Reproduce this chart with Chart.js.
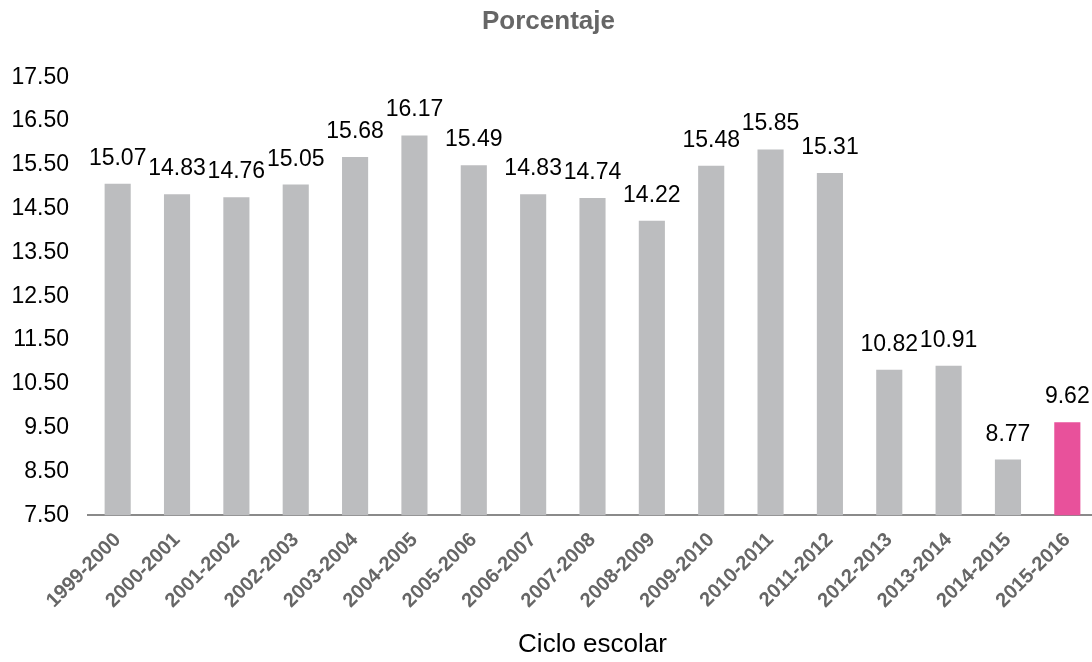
<!DOCTYPE html>
<html>
<head>
<meta charset="utf-8">
<script src="https://cdn.jsdelivr.net/npm/chart.js@4/dist/chart.umd.min.js"></script>
<style>
    html, body { margin: 0; padding: 0; background: #fff; overflow: hidden; }
    #wrap { width: 1100px; height: 662px; position: relative; }
</style>
</head>
<body>
<div id="wrap"><canvas id="porcentajeChart"></canvas></div>
<script>
const ciclos = ['1999-2000', '2000-2001', '2001-2002', '2002-2003', '2003-2004', '2004-2005', '2005-2006', '2006-2007', '2007-2008', '2008-2009', '2009-2010', '2010-2011', '2011-2012', '2012-2013', '2013-2014', '2014-2015', '2015-2016'];
const porcentajes = [15.07, 14.83, 14.76, 15.05, 15.68, 16.17, 15.49, 14.83, 14.74, 14.22, 15.48, 15.85, 15.31, 10.82, 10.91, 8.77, 9.62];
const yMin = 7.5;
const yMax = 17.5;
const yStep = 1;

const FONT = '"Liberation Sans", Arial, Helvetica, sans-serif';
const GRIS = '#bcbdbf';
const ROSA = '#e8519b';

// etiquetas de valor encima de cada barra
const valueLabels = {
    id: 'valueLabels',
    afterDatasetsDraw(chart) {
        const ctx = chart.ctx;
        const meta = chart.getDatasetMeta(0);
        ctx.save();
        ctx.font = '23px ' + FONT;
        ctx.fillStyle = '#000';
        ctx.textAlign = 'center';
        ctx.textBaseline = 'alphabetic';
        meta.data.forEach((bar, i) => {
            ctx.fillText(porcentajes[i].toFixed(2), bar.x, bar.y - 19);
        });
        ctx.restore();
    }
};

new Chart(document.getElementById('porcentajeChart').getContext('2d'), {
    type: 'bar',
    data: {
        labels: ciclos,
        datasets: [{
            label: 'Porcentaje',
            data: porcentajes,
            backgroundColor: porcentajes.map((v, i) => i === porcentajes.length - 1 ? ROSA : GRIS),
            borderWidth: 0,
            barPercentage: 0.44,
            categoryPercentage: 1
        }]
    },
    options: {
        responsive: true,
        maintainAspectRatio: false,
        animation: false,
        layout: { padding: { left: 0, right: 3, top: 0, bottom: 0 } },
        plugins: {
            legend: { display: false },
            tooltip: { enabled: false },
            title: {
                display: true,
                text: 'Porcentaje',
                color: '#666666',
                font: { family: FONT, size: 26, weight: 'bold' },
                padding: { top: 6, bottom: 40 }
            }
        },
        scales: {
            y: {
                min: yMin,
                max: yMax,
                grid: { display: false, drawTicks: false },
                border: { display: false },
                afterFit: s => { s.width = 88; },
                ticks: {
                    stepSize: yStep,
                    color: '#000',
                    padding: 19,
                    font: { family: FONT, size: 23 },
                    callback: value => value.toFixed(2)
                }
            },
            x: {
                grid: { display: false, drawTicks: false },
                border: { display: true, color: '#8a8a8a', width: 2 },
                afterFit: s => { s.paddingLeft = 0; s.paddingRight = 0; },
                ticks: {
                    color: '#666666',
                    padding: 13,
                    maxRotation: 45,
                    minRotation: 45,
                    autoSkip: false,
                    font: { family: FONT, size: 20, weight: 'bold' }
                },
                title: {
                    display: true,
                    text: 'Ciclo escolar',
                    color: '#000',
                    font: { family: FONT, size: 26 },
                    padding: { top: 3, bottom: 2 }
                }
            }
        }
    },
    plugins: [valueLabels]
});
</script>
</body>
</html>
